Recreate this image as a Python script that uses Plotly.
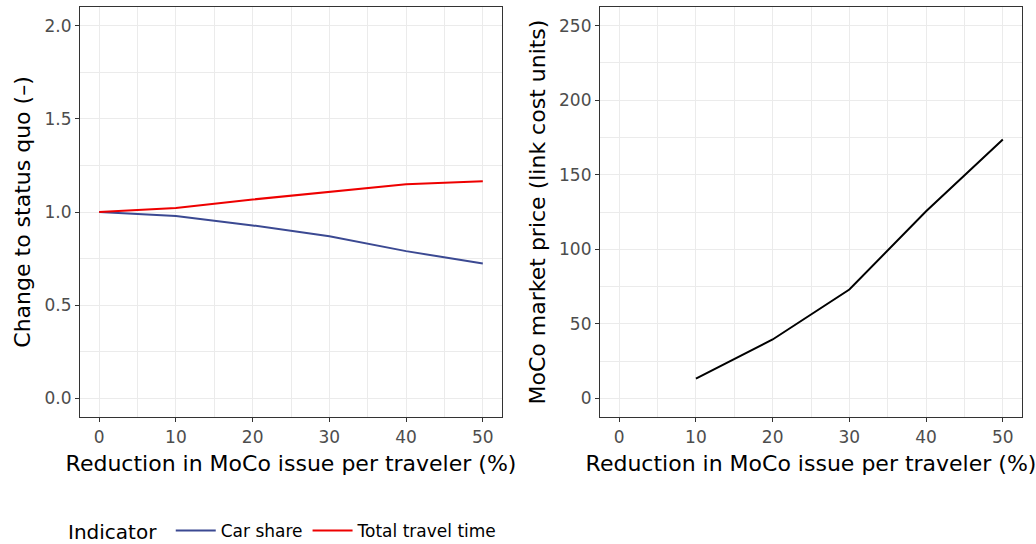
import plotly.graph_objects as go

reduction = [0, 10, 20, 30, 40, 50]
car_share = [1.0, 0.978, 0.928, 0.870, 0.790, 0.724]
total_travel_time = [1.0, 1.022, 1.067, 1.108, 1.149, 1.165]
price_reduction = [10, 20, 30, 40, 50]
market_price = [13.2, 39.5, 73.0, 125.5, 173.6]

FONT = "DejaVu Sans, Liberation Sans, Arial, sans-serif"
GRID = "#EBEBEB"
AXC = "#333333"
TICK_SIZE = 17
TITLE_SIZE = 22

W, H, MB = 1036, 544, 40
PH = H - MB

fig = go.Figure()
fig.add_trace(go.Scatter(x=reduction, y=car_share, mode="lines", name="Car share",
                         line=dict(color="#3B4992", width=2), xaxis="x", yaxis="y"))
fig.add_trace(go.Scatter(x=reduction, y=total_travel_time, mode="lines", name="Total travel time",
                         line=dict(color="#EE0000", width=2), xaxis="x", yaxis="y"))
fig.add_trace(go.Scatter(x=price_reduction, y=market_price, mode="lines", name="price",
                         line=dict(color="black", width=2), showlegend=False,
                         xaxis="x2", yaxis="y2"))

def xax(domain, anchor):
    return dict(domain=domain, anchor=anchor, range=[-2.5, 52.5], tickmode="array",
                tickvals=[0, 10, 20, 30, 40, 50], showgrid=True, gridcolor=GRID, gridwidth=1.2,
                minor=dict(tickvals=[5, 15, 25, 35, 45], showgrid=True, gridcolor=GRID, gridwidth=0.6, ticks=""),
                zeroline=False, showline=True, linecolor=AXC, linewidth=1.2, mirror=True,
                ticks="outside", ticklen=4, tickcolor=AXC, tickwidth=1, automargin=False,
                tickfont=dict(family=FONT, size=TICK_SIZE, color="#4D4D4D"),
                title=dict(text="Reduction in MoCo issue per traveler (%)",
                           font=dict(family=FONT, size=TITLE_SIZE, color="black"), standoff=10))

def yax(domain, anchor, rng, vals, minor, title, labels=None):
    d = dict(domain=domain, anchor=anchor, range=rng, tickmode="array", tickvals=vals,
             showgrid=True, gridcolor=GRID, gridwidth=1.2,
             minor=dict(tickvals=minor, showgrid=True, gridcolor=GRID, gridwidth=0.6, ticks=""),
             zeroline=False, showline=True, linecolor=AXC, linewidth=1.2, mirror=True,
             ticks="outside", ticklen=4, tickcolor=AXC, tickwidth=1, automargin=False,
             tickfont=dict(family=FONT, size=TICK_SIZE, color="#4D4D4D"),
             title=dict(text=title, font=dict(family=FONT, size=TITLE_SIZE, color="black"), standoff=7))
    if labels:
        d["ticktext"] = labels
    return d

ydom = [(PH - 417) / PH, (PH - 7) / PH]
fig.update_layout(
    width=W, height=H,
    margin=dict(l=0, r=0, t=0, b=MB, autoexpand=False),
    paper_bgcolor="white", plot_bgcolor="white",
    xaxis=xax([80 / W, 502 / W], "y"),
    yaxis=yax(ydom, "x", [-0.1, 2.1], [0, 0.5, 1.0, 1.5, 2.0], [0.25, 0.75, 1.25, 1.75],
              "Change to status quo (–)", ["0.0", "0.5", "1.0", "1.5", "2.0"]),
    xaxis2=xax([600 / W, 1022 / W], "y2"),
    yaxis2=yax(ydom, "x2", [-12.5, 262.5], [0, 50, 100, 150, 200, 250], [25, 75, 125, 175, 225],
               "MoCo market price (link cost units)"),
    legend=dict(orientation="h", x=66 / W, y=-(MB + 5) / PH, xanchor="left", yanchor="bottom",
                title=dict(text="Indicator ", font=dict(family=FONT, size=20, color="black")),
                font=dict(family=FONT, size=TICK_SIZE, color="black"), itemwidth=40),
    showlegend=True,
)

fig.write_html("out.html", config={"displayModeBar": False},
               post_script="document.body.style.margin='0';")
